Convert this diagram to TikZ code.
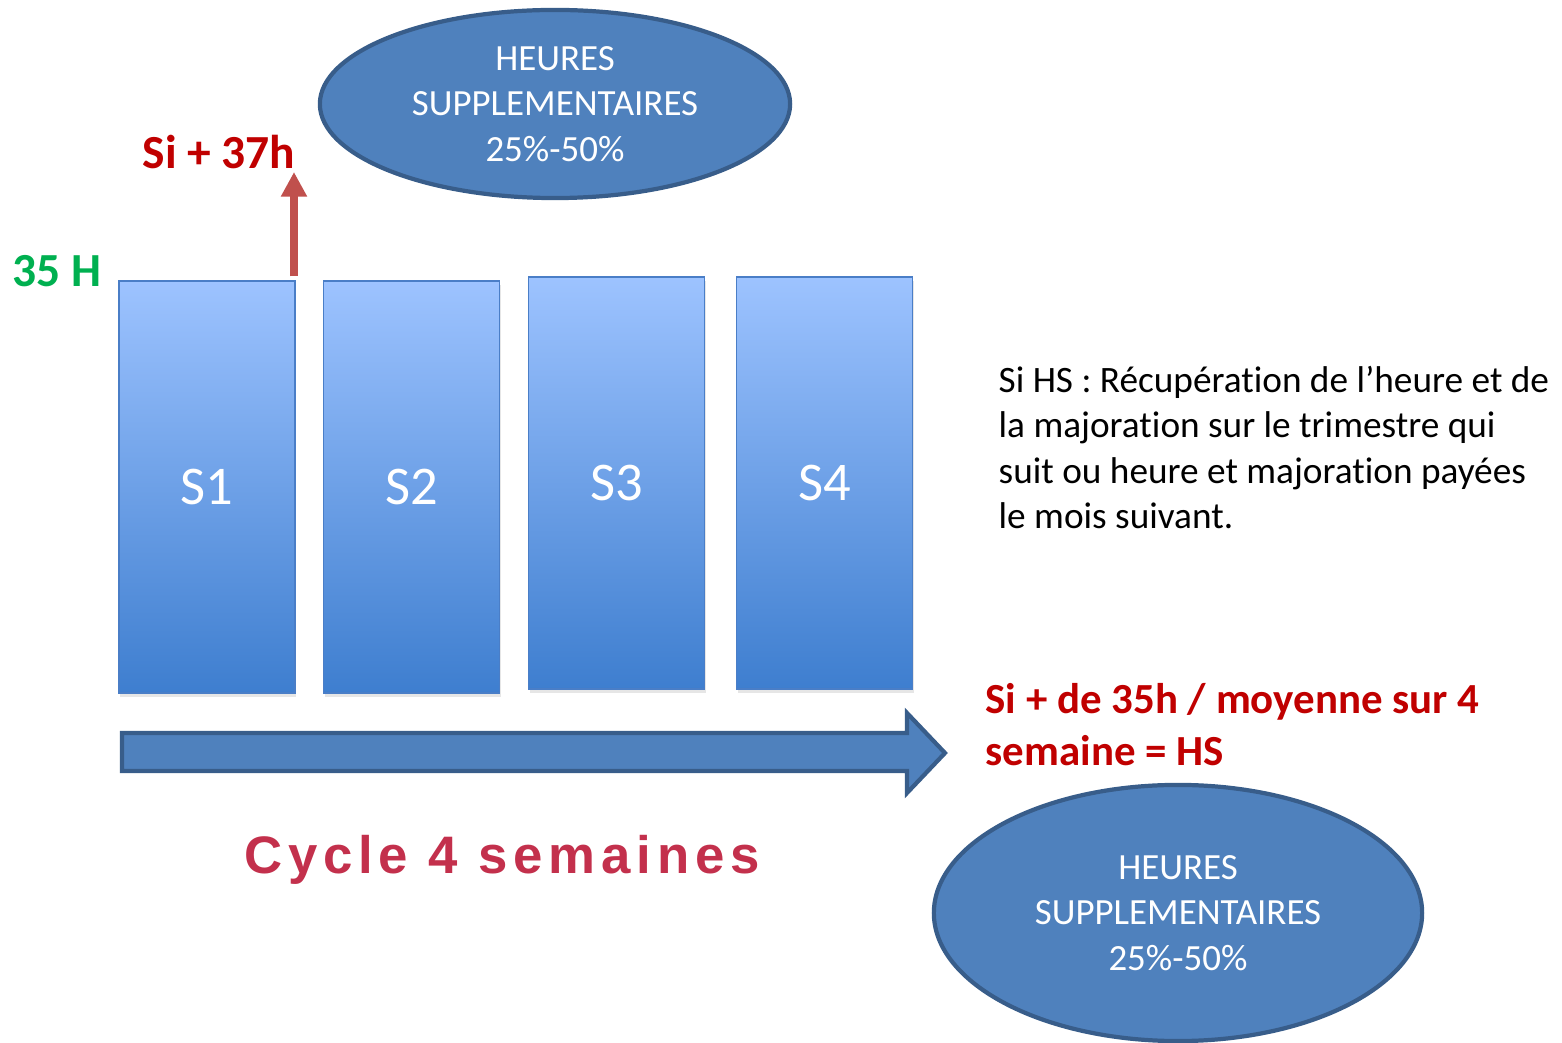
\documentclass[tikz,border=0pt]{standalone}
\usepackage{fontspec}
\setmainfont{Carlito}[Ligatures=NoCommon]
\newfontfamily\cyclefont[LetterSpace=11]{Liberation Sans}
\usetikzlibrary{shapes.geometric,arrows.meta,shadows}

\definecolor{hsblue}{HTML}{4F81BD}
\definecolor{hsborder}{HTML}{385D8A}
\definecolor{bartop}{HTML}{9DC3FF}
\definecolor{barbottom}{HTML}{3E7ECF}
\definecolor{barline}{HTML}{4A7EC7}
\definecolor{alertred}{HTML}{C00000}
\definecolor{arrowred}{HTML}{C0504D}
\definecolor{okgreen}{HTML}{00B050}
\definecolor{cyclered}{HTML}{C3304C}

\tikzset{
  hsbubble/.style={ellipse, draw=hsborder, line width=1.2pt, fill=hsblue,
    text=white, inner sep=0pt, align=center,
    font=\fontsize{10.5}{12.9}\selectfont},
  weekbar/.style={rectangle, draw=barline, line width=0.5pt,
    top color=bartop, bottom color=barbottom,
    minimum width=1.76cm, minimum height=4.12cm, inner sep=0pt,
    text=white, font=\fontsize{15.5}{18}\selectfont,
    drop shadow={shadow xshift=0.3pt, shadow yshift=-1.2pt, opacity=0.2}},
  redlabel/.style={text=alertred, font=\fontsize{13.5}{16}\selectfont\bfseries, inner sep=0pt},
}

\begin{document}
\begin{tikzpicture}[x=0.01cm,y=-0.01cm]
\useasboundingbox (0,0) rectangle (1562,1043);

% the four weeks
\node[weekbar] (s1) at (207,487) {S1};
\node[weekbar] (s2) at (411.5,487) {S2};
\node[weekbar] (s3) at (616.5,483) {S3};
\node[weekbar] (s4) at (824.5,483) {S4};

% thresholds
\node[redlabel, text=okgreen] (h35) at (57,271) {35 H};
\node[redlabel] (h37) at (219,152) {Si + 37h};
\coordinate (tip37) at (294,172);
\draw[arrowred, line width=2.3pt, -{Triangle[width=7pt,length=7pt]}]
  ([yshift=1pt]s1.north east -| tip37) -- (tip37);

% overtime bubbles
\node[hsbubble, minimum width=4.7cm, minimum height=1.88cm] (hstop) at (555,104)
  {HEURES\\SUPPLEMENTAIRES\\25\%-50\%};
\node[hsbubble, minimum width=4.88cm, minimum height=2.56cm] (hsbottom) at (1178,913)
  {HEURES\\SUPPLEMENTAIRES\\25\%-50\%};

% cycle arrow
\draw[hsborder, line width=1.2pt, fill=hsblue]
  (122,733) -- (907,733) -- (907,713) -- (945,753) -- (907,793) -- (907,771) -- (122,771) -- cycle;
\node[text=cyclered, font=\fontsize{15}{18}\cyclefont\bfseries] (cycle) at (502,860) {Cycle 4 semaines};

\node[redlabel, font=\fontsize{12.2}{14.8}\selectfont\bfseries, anchor=west, align=left] (moy) at (985,725)
  {Si + de 35h / moyenne sur 4\\semaine = HS};

\node[anchor=north west, align=left, inner sep=0pt, font=\fontsize{10.6}{12.8}\selectfont] (recup) at (998,366)
  {Si HS : Récupération de l’heure et de\\la majoration sur le trimestre qui\\suit ou heure et majoration payées\\le mois suivant.};
\end{tikzpicture}
\end{document}
